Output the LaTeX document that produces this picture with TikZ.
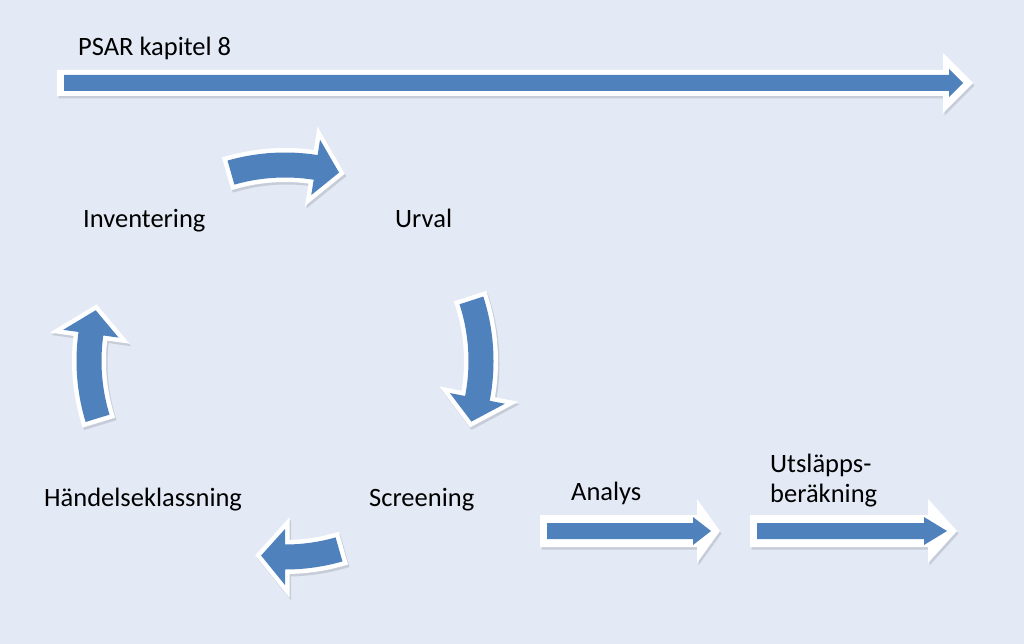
\documentclass[tikz,border=0pt]{standalone}
\usepackage{fontspec}
\setmainfont{Carlito}
\usepackage{tikz}
\usetikzlibrary{calc}

\definecolor{pagebg}{RGB}{227,234,246}
\definecolor{arrowblue}{RGB}{79,129,189}

\begin{document}
\begin{tikzpicture}[x=1pt, y=-1pt,
	every node/.style={font=\fontsize{26.5}{31}\selectfont, inner sep=0pt, anchor=base west},
	shadowed/.style={preaction={fill=black, opacity=.12, transform canvas={shift={(1.5pt,-2.5pt)}}}},
	whitearrow/.style={fill=white, shadowed},
	bluearrow/.style={fill=arrowblue},
	bentarrow/.style={fill=arrowblue,
		preaction={draw=black, line width=9pt, opacity=.12, transform canvas={shift={(1.5pt,-2.5pt)}}},
		preaction={draw=white, line width=9pt}}]
	\fill[pagebg] (0,0) rectangle (1024,644);
	\useasboundingbox (0,0) rectangle (1024,644);

	% long arrow on top
	\fill[whitearrow] (57,70) -- (943,70) -- (943,53) -- (973,83) -- (943,113) -- (943,96) -- (57,96) -- cycle;
	\fill[bluearrow] (64,75) -- (949,75) -- (949,69) -- (963,83) -- (949,97) -- (949,91) -- (64,91) -- cycle;
	\node (psar) at (78,56) {PSAR kapitel 8};

	% the cycle
	\coordinate (c) at (285,361);
	\foreach \ta/\tp in {-106/-74, -18/18, 74/97, 163/195}{
		\pgfmathsetmacro{\tb}{\tp-7}
		\path[bentarrow] ($(c)+(\ta:208.5)$) arc[start angle=\ta, end angle=\tb, radius=208.5]
			-- ($(c)+(\tb:224)$) -- ($(c)+(\tp:196)$) -- ($(c)+(\tb:168)$) -- ($(c)+(\tb:183.5)$)
			arc[start angle=\tb, end angle=\ta, radius=183.5] -- cycle;
	}
	\node (inventering) at (83,227) {Inventering};
	\node (urval) at (395,227) {Urval};
	\node (screening) at (369,506) {Screening};
	\node (handelse) at (44,506) {Händelseklassning};

	% analys and utslapp
	\fill[whitearrow] (540,515) -- (697,515) -- (697,499) -- (720,531) -- (697,563) -- (697,547) -- (540,547) -- cycle;
	\fill[bluearrow] (547,523) -- (693,523) -- (693,517) -- (711,531) -- (693,545) -- (693,539) -- (547,539) -- cycle;
	\fill[whitearrow] (750,515) -- (928,515) -- (928,499) -- (957,531) -- (928,563) -- (928,547) -- (750,547) -- cycle;
	\fill[bluearrow] (757,523) -- (924,523) -- (924,517) -- (947,531) -- (924,545) -- (924,539) -- (757,539) -- cycle;
	\node (analys) at (571,500) {Analys};
	\node (utslapp) at (770,472) {Utsläpps-};
	\node (berakning) at (770,502) {beräkning};
\end{tikzpicture}
\end{document}
